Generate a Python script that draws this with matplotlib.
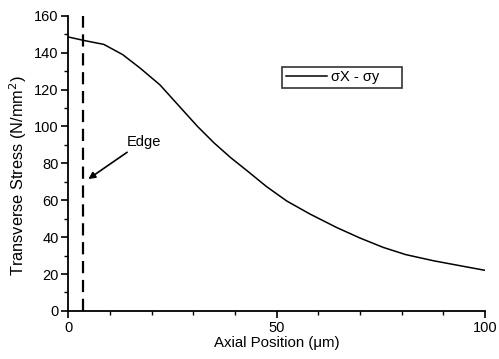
import matplotlib
matplotlib.use("Agg")
import matplotlib.pyplot as plt
from matplotlib.ticker import MultipleLocator

plt.rcParams['font.family'] = ['Liberation Sans', 'DejaVu Sans']

# data
axial_pos = [0, 4, 8.5, 13, 17.3, 22, 27, 31, 35, 39, 43, 47.5, 52.4, 58, 64.4, 70, 75.6, 81, 87.6, 94, 100]
stress = [148.5, 146.5, 144.5, 139, 131.5, 122.5, 110, 100, 91, 83, 75.8, 67.5, 59.6, 52.5, 45.2, 39.5, 34.4, 30.5, 27.2, 24.5, 22]
edge_x = 3.4
series_label = "\u03c3X - \u03c3y"

fig = plt.figure(figsize=(4.99, 3.59), dpi=100)
ax = fig.add_axes([0.137, 0.134, 0.835, 0.822])

ax.plot(axial_pos, stress, color='black', lw=1.1, label=series_label)
ax.plot([edge_x, edge_x], [0, 160], color='black', lw=1.6, dashes=(5.5, 3))

ax.set_xlim(0, 100)
ax.set_ylim(0, 160)
ax.spines['top'].set_visible(False)
ax.spines['right'].set_visible(False)
for s in ('left', 'bottom'):
    ax.spines[s].set_linewidth(1.3)

ax.xaxis.set_major_locator(MultipleLocator(50))
ax.xaxis.set_minor_locator(MultipleLocator(10))
ax.yaxis.set_major_locator(MultipleLocator(20))
ax.yaxis.set_minor_locator(MultipleLocator(10))
ax.tick_params(which='major', direction='out', length=5, width=1.2, labelsize=10.5, pad=2)
ax.tick_params(which='minor', direction='out', length=3, width=1.0)

ax.set_xlabel("Axial Position (\u03bcm)", fontsize=10.8, labelpad=1)
ax.set_ylabel("Transverse Stress (N/mm$^2$)", fontsize=11.8)
ax.yaxis.set_label_coords(-0.095, 0.46)

ax.text(14, 88, "Edge", fontsize=10.5, ha='left', va='bottom')
ax.annotate("", xy=(4.8, 71.5), xytext=(14.1, 86),
            arrowprops=dict(arrowstyle='-|>', color='black', lw=1.2,
                            mutation_scale=10, shrinkA=0, shrinkB=0))

leg = ax.legend(loc='upper left', bbox_to_anchor=(0.513, 0.5, 0.288, 0.327),
                mode='expand', frameon=True,
                fancybox=False, edgecolor='black', fontsize=10.5,
                handlelength=2.8, borderpad=0.25, handletextpad=0.3,
                borderaxespad=0)
leg.get_frame().set_linewidth(1.2)

fig.savefig("out.png", dpi=100)
